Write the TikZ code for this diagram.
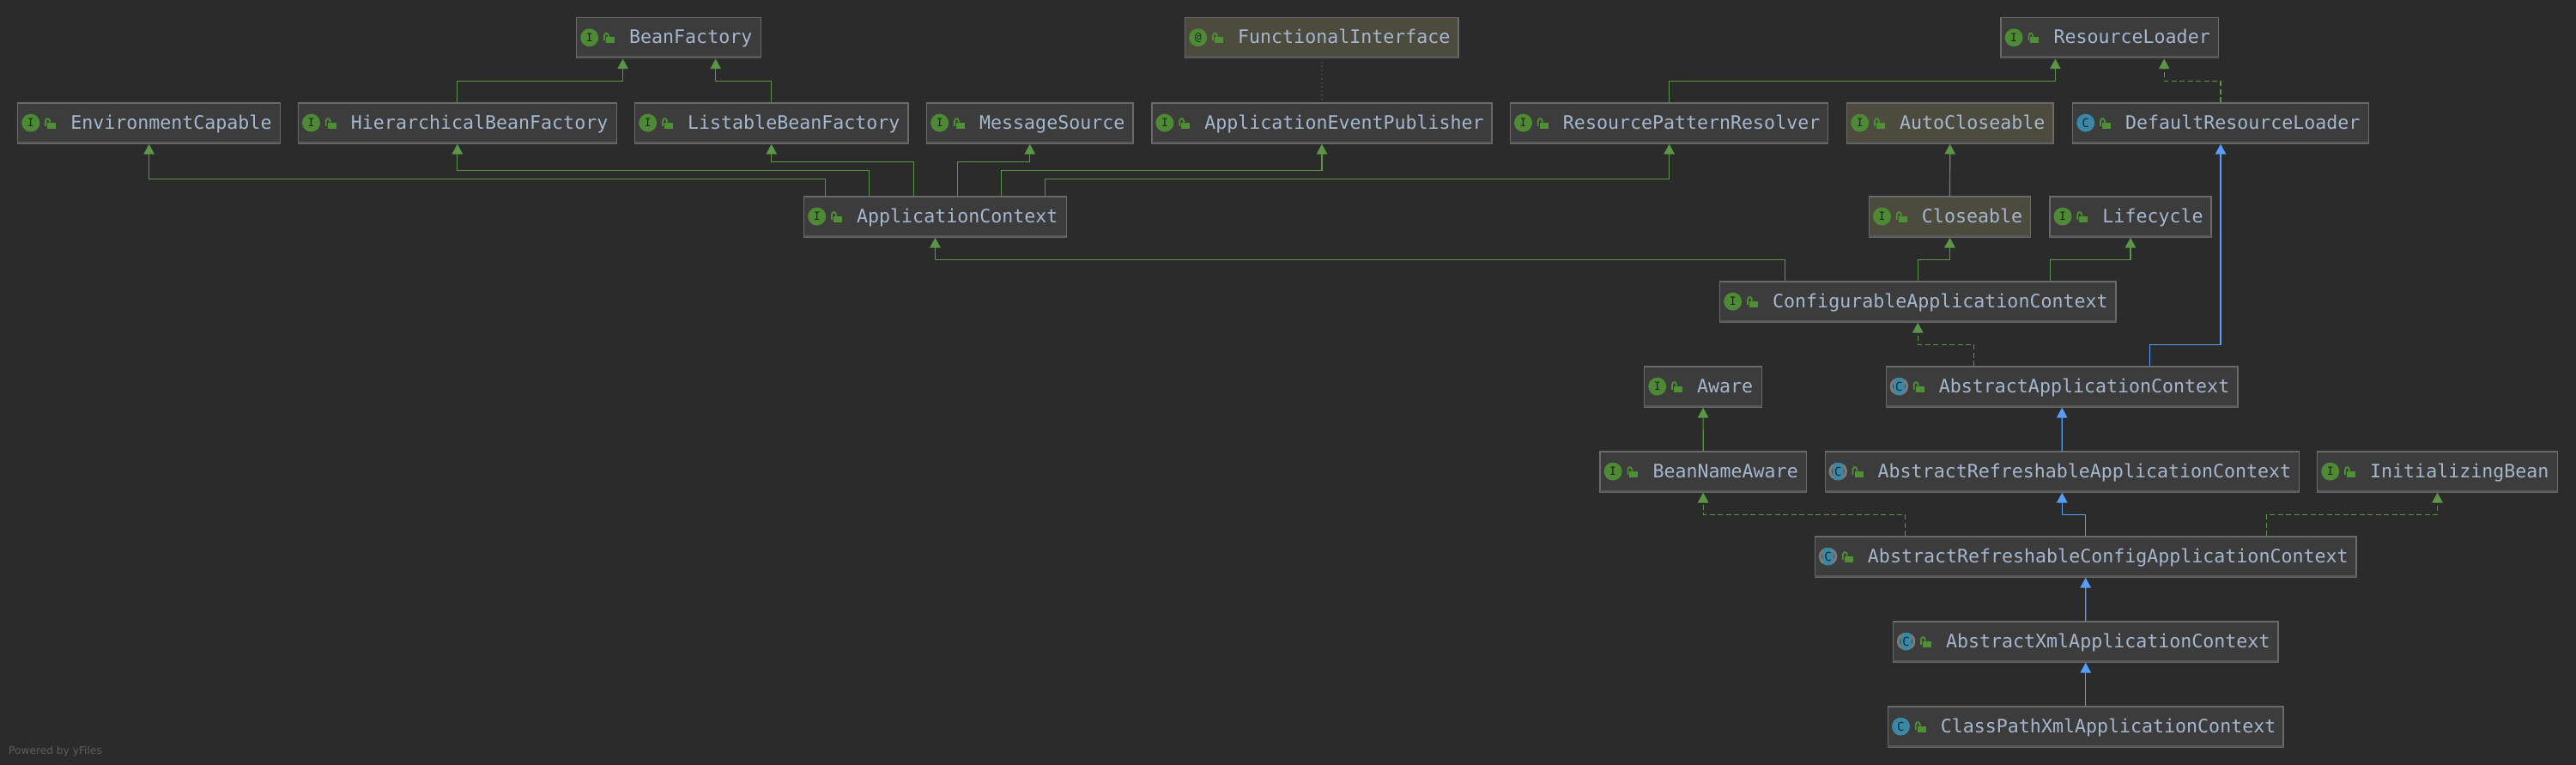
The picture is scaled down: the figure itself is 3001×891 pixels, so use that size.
\documentclass[tikz,border=0pt]{standalone}
\usepackage{fontspec}
\usetikzlibrary{arrows.meta}
\newfontfamily\labfont{DejaVu Sans Mono}
\newfontfamily\footfont{DejaVu Sans}
\definecolor{bgc}{HTML}{2B2B2B}
\definecolor{boxc}{HTML}{3C3C3C}
\definecolor{annc}{HTML}{4D4A3E}
\definecolor{edgec}{HTML}{6A6A6A}
\definecolor{stripc}{HTML}{575757}
\definecolor{footc}{HTML}{5E5E5E}
\definecolor{textc}{HTML}{A5B7CE}
\definecolor{greenl}{HTML}{5A9646}
\definecolor{bluel}{HTML}{589DF6}
\definecolor{icong}{HTML}{4E8A36}
\definecolor{lockg}{HTML}{4F9035}
\definecolor{iconb}{HTML}{3B88A6}
\definecolor{ringc}{HTML}{7A7A7A}
\definecolor{olivel}{HTML}{6F7F1F}
\tikzset{
  umlbox/.style={rectangle,draw=edgec,line width=1.3pt,inner sep=0pt,anchor=north west,
    font=\labfont\fontsize{21.62}{24}\selectfont,text=textc,text height=30.3pt,text depth=16.9pt},
  plainbox/.style={umlbox,fill=boxc},
  annbox/.style={umlbox,fill=annc},
  iicon/.style={circle,fill=icong,minimum size=21pt,inner sep=0pt,text=black!70!icong,
    font=\labfont\fontsize{13}{13}\selectfont},
  cicon/.style={circle,fill=iconb,minimum size=21pt,inner sep=0pt,text=black!70!iconb,
    font=\labfont\fontsize{14}{14}\selectfont},
  aicon/.style={rectangle,rounded corners=4pt,fill=iconb,minimum width=12.7pt,minimum height=20.5pt,inner sep=0pt,
    text=black!70!iconb,font=\labfont\fontsize{14}{14}\selectfont},
  greenedge/.style={draw=greenl,line width=1.2pt,-{Triangle[length=11.7pt,width=12.4pt]}},
  dashedge/.style={greenedge,dash pattern=on 6pt off 3.5pt},
  blueedge/.style={draw=bluel,line width=1.2pt,-{Triangle[length=11.7pt,width=12.4pt]}},
  dotedge/.style={draw=olivel,line width=1pt,dash pattern=on 1.2pt off 3.6pt,shorten >=3pt,shorten <=3pt},
}
% name, x, y, width, box style, icon style, glyph, text
\newcommand{\umlnode}[8]{%
  \node[#5] (#1) at (#2,#3) {\makebox[\dimexpr #4pt-1.3pt\relax][l]{\hspace*{61.5pt}#8}};
  \fill[stripc] ([xshift=.65pt,yshift=.65pt]#1.south west) rectangle ([xshift=-.65pt,yshift=3.2pt]#1.south east);
  \node[#6] (#1-icon) at ([xshift=15.7pt,yshift=-23.8pt]#1.north west) {#7};
  \fill[lockg] ([xshift=35pt,yshift=-23.2pt]#1.north west) rectangle ++(10,7);
  \draw[lockg,line width=1.8pt,line join=round] ([xshift=33pt,yshift=-27.5pt]#1.north west)
    -- ++(0,-6) -- ++(1.3,-2.6) -- ++(2.2,0) -- ++(1.4,2.6) -- ++(0,1.8);
}
\newcommand{\absring}[1]{%
  \draw[ringc,line width=3.2pt] ([shift={(125:9.2pt)}]#1-icon.center) arc[start angle=125,end angle=235,radius=9.2pt];
  \draw[ringc,line width=3.2pt] ([shift={(-55:9.2pt)}]#1-icon.center) arc[start angle=-55,end angle=55,radius=9.2pt];
}
\begin{document}
\begin{tikzpicture}[x=1pt,y=-1pt]
\fill[bgc] (0,0) rectangle (3001,891);
\useasboundingbox (0,0) rectangle (3001,891);
% row 1
\umlnode{bf}{671}{20}{216.3}{plainbox}{iicon}{I}{BeanFactory}
\umlnode{fi}{1380}{20}{319.5}{annbox}{iicon}{@}{FunctionalInterface}
\umlnode{rl}{2330.4}{20}{254.9}{plainbox}{iicon}{I}{ResourceLoader}
% row 2
\umlnode{env}{20.1}{119.3}{307.1}{plainbox}{iicon}{I}{EnvironmentCapable}
\umlnode{hbf}{346.8}{119.3}{372.1}{plainbox}{iicon}{I}{HierarchicalBeanFactory}
\umlnode{lbf}{739}{119.3}{319.5}{plainbox}{iicon}{I}{ListableBeanFactory}
\umlnode{msg}{1079}{119.3}{241.6}{plainbox}{iicon}{I}{MessageSource}
\umlnode{aep}{1341.2}{119.3}{397.5}{plainbox}{iicon}{I}{ApplicationEventPublisher}
\umlnode{rpr}{1758.8}{119.3}{371.6}{plainbox}{iicon}{I}{ResourcePatternResolver}
\umlnode{acl}{2151}{119.3}{241.5}{annbox}{iicon}{I}{AutoCloseable}
\umlnode{drl}{2414}{119.3}{345.9}{plainbox}{cicon}{C}{DefaultResourceLoader}
% row 3
\umlnode{ctx}{936}{228.3}{307}{plainbox}{iicon}{I}{ApplicationContext}
\umlnode{clo}{2176.8}{228.3}{189.4}{annbox}{iicon}{I}{Closeable}
\umlnode{lif}{2387.3}{228.3}{189.4}{plainbox}{iicon}{I}{Lifecycle}
% row 4
\umlnode{cac}{2003}{327.3}{462.5}{plainbox}{iicon}{I}{ConfigurableApplicationContext}
% row 5
\umlnode{awa}{1915}{426.3}{138.2}{plainbox}{iicon}{I}{Aware}
\umlnode{aac}{2196.7}{426.3}{411}{plainbox}{aicon}{C}{AbstractApplicationContext}\absring{aac}
% row 6
\umlnode{bna}{1863.4}{525.3}{241.5}{plainbox}{iicon}{I}{BeanNameAware}
\umlnode{arac}{2125.5}{525.3}{553.5}{plainbox}{aicon}{C}{AbstractRefreshableApplicationContext}\absring{arac}
\umlnode{ini}{2699}{525.3}{281}{plainbox}{iicon}{I}{InitializingBean}
% rows 7-9
\umlnode{arcac}{2113.8}{624.3}{631.7}{plainbox}{aicon}{C}{AbstractRefreshableConfigApplicationContext}\absring{arcac}
\umlnode{axac}{2204.9}{723.3}{449.6}{plainbox}{aicon}{C}{AbstractXmlApplicationContext}\absring{axac}
\umlnode{cpx}{2198.7}{822.3}{462}{plainbox}{cicon}{C}{ClassPathXmlApplicationContext}
% connectors
\draw[greenedge] (hbf.north) -- ++(0,-25) -| ([xshift=54.6pt]bf.south west);
\draw[greenedge] (lbf.north) -- ++(0,-25) -| ([xshift=162.7pt]bf.south west);
\draw[greenedge] ([xshift=25.4pt]ctx.north west) -- ++(0,-20) -| (env.south);
\draw[greenedge] ([xshift=76.6pt]ctx.north west) -- ++(0,-30) -| (hbf.south);
\draw[greenedge] ([xshift=128.7pt]ctx.north west) -- ++(0,-40) -| (lbf.south);
\draw[greenedge] ([xshift=179.4pt]ctx.north west) -- ++(0,-40) -| (msg.south);
\draw[greenedge] ([xshift=230.6pt]ctx.north west) -- ++(0,-30) -| (aep.south);
\draw[greenedge] ([xshift=281.3pt]ctx.north west) -- ++(0,-20) -| (rpr.south);
\draw[dotedge] (aep.north) -- (fi.south);
\draw[greenedge] (rpr.north) -- ++(0,-25) -| ([xshift=64pt]rl.south west);
\draw[dashedge] (drl.north) -- ++(0,-25) -| ([xshift=190.8pt]rl.south west);
\draw[greenedge] (clo.north) -- (acl.south);
\draw[greenedge] ([xshift=76.6pt]cac.north west) -- ++(0,-25) -| (ctx.south);
\draw[greenedge] ([xshift=231.2pt]cac.north west) -- ++(0,-25) -| (clo.south);
\draw[greenedge] ([xshift=385.5pt]cac.north west) -- ++(0,-25) -| (lif.south);
\draw[dashedge] ([xshift=103pt]aac.north west) -- ++(0,-25) -| ([xshift=231.2pt]cac.south west);
\draw[blueedge] ([xshift=307.6pt]aac.north west) -- ++(0,-25) -| (drl.south);
\draw[greenedge] (bna.north) -- (awa.south);
\draw[blueedge] (arac.north) -- (aac.south);
\draw[dashedge] ([xshift=105.8pt]arcac.north west) -- ++(0,-25) -| (bna.south);
\draw[blueedge] (arcac.north) -- ++(0,-25) -| (arac.south);
\draw[dashedge] ([xshift=526.8pt]arcac.north west) -- ++(0,-25) -| (ini.south);
\draw[blueedge] (axac.north) -- (arcac.south);
\draw[blueedge] (cpx.north) -- (axac.south);
\node[anchor=base west,inner sep=0pt,text=footc,font=\footfont\fontsize{12.2}{15}\selectfont] (powered) at (10,878) {Powered by yFiles};
\end{tikzpicture}
\end{document}
